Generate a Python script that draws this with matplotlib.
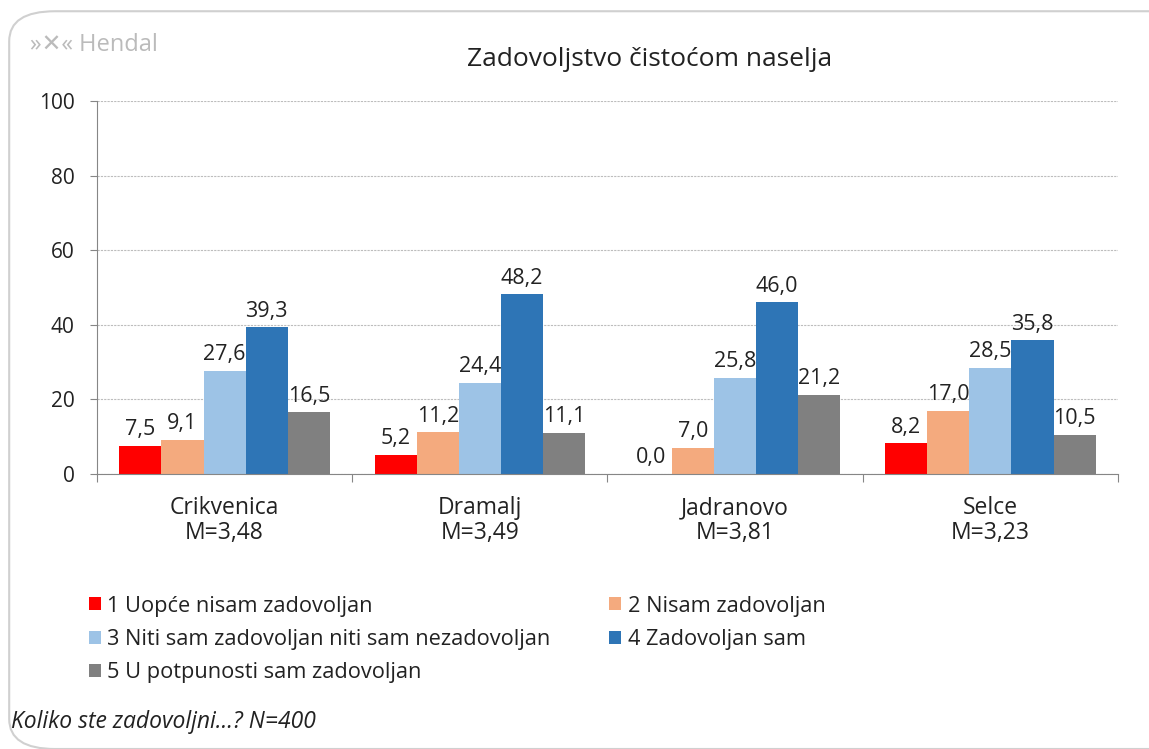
import numpy as np
import matplotlib.pyplot as plt
from matplotlib.patches import FancyBboxPatch

# data
places = ['Crikvenica', 'Dramalj', 'Jadranovo', 'Selce']
means = ['M=3,48', 'M=3,49', 'M=3,81', 'M=3,23']
answers = ['1 Uopće nisam zadovoljan',
           '2 Nisam zadovoljan',
           '3 Niti sam zadovoljan niti sam nezadovoljan',
           '4 Zadovoljan sam',
           '5 U potpunosti sam zadovoljan']
a1 = [7.5, 5.2, 0.0, 8.2]
a2 = [9.1, 11.2, 7.0, 17.0]
a3 = [27.6, 24.4, 25.8, 28.5]
a4 = [39.3, 48.2, 46.0, 35.8]
a5 = [16.5, 11.1, 21.2, 10.5]
colors = ['#FF0000', '#F4AA7E', '#9DC3E6', '#2E75B6', '#808080']

plt.rcParams['font.family'] = ['Open Sans', 'DejaVu Sans']
plt.rcParams['text.color'] = '#222222'

fig = plt.figure(figsize=(11.49, 7.49), dpi=100)
fig.patches.append(FancyBboxPatch((0.008, 0.0), 1.05, 0.985, boxstyle='round,pad=0,rounding_size=0.04',
                                  transform=fig.transFigure, facecolor='white',
                                  edgecolor='#D0D0D0', lw=1.5, zorder=-1))

ax = fig.add_axes([0.0844, 0.3672, 0.8886, 0.498])
x = np.arange(len(places))
w = 0.165
series = [a1, a2, a3, a4, a5]
bars = []
for i, vals in enumerate(series):
    b = ax.bar(x + (i - 2) * w, vals, w, color=colors[i], label=answers[i], zorder=2)
    bars.append(b)
    for xi, v in zip(x + (i - 2) * w, vals):
        ax.annotate(f'{v:.1f}'.replace('.', ','), (xi, v), xytext=(0, 4),
                    textcoords='offset points', ha='center', va='bottom', fontsize=15.5)

ax.set_xlim(-0.5, 3.5)
ax.set_ylim(0, 100)
ax.set_yticks(range(0, 101, 20))
ax.yaxis.grid(True, linestyle=(0, (2, 1)), color='#BDBDBD', lw=0.8)
ax.set_axisbelow(True)
for s in ['top', 'right']:
    ax.spines[s].set_visible(False)
ax.spines['left'].set_color('#868686')
ax.spines['bottom'].set_color('#868686')
ax.tick_params(axis='y', labelsize=15, length=5, color='#868686', pad=11, labelcolor='#222222')
ax.set_xticks(np.arange(-0.5, 4, 1))
ax.set_xticklabels([])
ax.tick_params(axis='x', length=6, color='#868686')
ax.set_xticks(x, minor=True)
ax.set_xticklabels([p + '\n' + m for p, m in zip(places, means)], minor=True,
                   fontsize=16.5, linespacing=1.05, color='#222222')
ax.tick_params(axis='x', which='minor', length=0, pad=16)

order = [0, 2, 4, 1, 3]
handles = [bars[i] for i in order]
labels = [answers[i] for i in order]
fig.legend(handles, labels, ncol=2, loc='upper left', bbox_to_anchor=(0.06, 0.231),
           frameon=False, fontsize=15.7, handlelength=0.55, handleheight=0.55,
           handletextpad=0.3, columnspacing=2.7, labelspacing=0.56)

fig.text(0.565, 0.92, 'Zadovoljstvo čistoćom naselja', ha='center', va='center', fontsize=19)
fig.text(0.026, 0.94, '»✕« Hendal', ha='left', va='center', fontsize=17, color='#BBBBBB')
fig.text(0.01, 0.036, 'Koliko ste zadovoljni...? N=400', ha='left', va='center',
         fontsize=16.5, style='italic')

fig.savefig('out.png', dpi=100)
